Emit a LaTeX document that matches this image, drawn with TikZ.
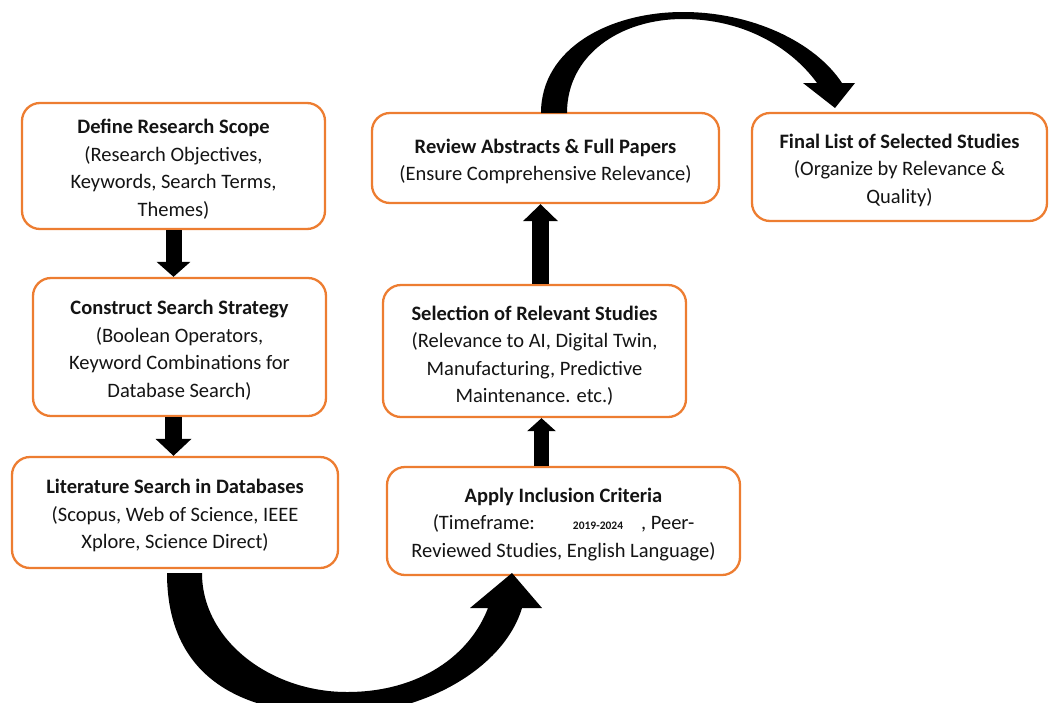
\documentclass[tikz,border=0pt]{standalone}
\usepackage{fontspec}
\setmainfont{Carlito}
\usetikzlibrary{arrows.meta}
\definecolor{boxorange}{HTML}{ED7D31}
\definecolor{txt}{HTML}{141414}
\tikzset{
  stepbox/.style={draw=boxorange, line width=2.3pt, rounded corners=18pt, fill=white,
    align=center, text=txt, inner sep=0pt, font=\fontsize{20.5}{27.5}\selectfont},
}
\newcommand{\ttl}[1]{\rule{0pt}{21pt}\textbf{#1}}
\begin{document}
\begin{tikzpicture}[x=1pt,y=-1pt]
\useasboundingbox (0,0) rectangle (1049,702);
% boxes
\node[stepbox, minimum width=303pt, minimum height=126pt] (b1) at (173.5,166)
  {\ttl{Define Research Scope}\\(Research Objectives,\\Keywords, Search Terms,\\Themes)};
\node[stepbox, minimum width=293pt, minimum height=138pt] (b2) at (179.5,347)
  {\ttl{Construct Search Strategy}\\(Boolean Operators,\\Keyword Combinations for\\Database Search)};
\node[stepbox, minimum width=326pt, minimum height=111pt] (b3) at (175,512.5)
  {\ttl{Literature Search in Databases}\\(Scopus, Web of Science, IEEE\\Xplore, Science Direct)};
\node[stepbox, minimum width=353pt, minimum height=108pt] (b4) at (563.5,521)
  {\ttl{Apply Inclusion Criteria}\\(Timeframe:\hspace{38pt}{\fontsize{11.5}{12}\selectfont\textbf{2019-2024}}\hspace{18pt}, Peer-\\Reviewed Studies, English Language)};
\node[stepbox, minimum width=303pt, minimum height=132pt] (b5) at (534.5,351)
  {\rule{0pt}{24pt}\textbf{Selection of Relevant Studies}\\(Relevance to AI, Digital Twin,\\Manufacturing, Predictive\\Maintenance. etc.)};
\node[stepbox, minimum width=347pt, minimum height=90pt] (b6) at (545.5,158)
  {\ttl{Review Abstracts \& Full Papers}\\(Ensure Comprehensive Relevance)};
\node[stepbox, minimum width=295pt, minimum height=108pt] (b7) at (899.5,167)
  {\ttl{Final List of Selected Studies}\\(Organize by Relevance \&\\Quality)};
% straight block arrows
\draw[line width=16pt, -{Triangle[length=15pt,width=33pt]}] (b1.south) -- (b1.south |- b2.north);
\draw[line width=17pt, -{Triangle[length=17pt,width=35pt]}] (b1.south |- b2.south) -- (b1.south |- b3.north);
\draw[line width=17pt, -{Triangle[length=17pt,width=34pt]}] ([xshift=6pt]b5.north) -- ([xshift=-5pt]b6.south);
\draw[line width=15pt, -{Triangle[length=13pt,width=28pt]}] ([xshift=-22pt]b4.north) -- ([xshift=-22pt]b4.north |- b5.south);
% curved arrow bottom: b3 -> b4
\fill[black] (167,573) .. controls (167,690) and (260,716) .. (345,714)
  .. controls (430,712) and (505,665) .. (522,608)
  -- (542,608) -- (512,573) -- (470,608) -- (488,608)
  .. controls (470,655) and (420,692) .. (347,692)
  .. controls (270,692) and (202,640) .. (202,573) -- cycle;
% curved arrow top: b6 -> b7
\fill[black] (541,113) .. controls (541,48) and (610,12) .. (683,12)
  .. controls (752,12) and (815,42) .. (842,83)
  -- (855,83) -- (835,108) -- (803,83) -- (817,83)
  .. controls (790,46) and (742,19) .. (683,19)
  .. controls (620,19) and (567,55) .. (567,113) -- cycle;
\end{tikzpicture}
\end{document}
